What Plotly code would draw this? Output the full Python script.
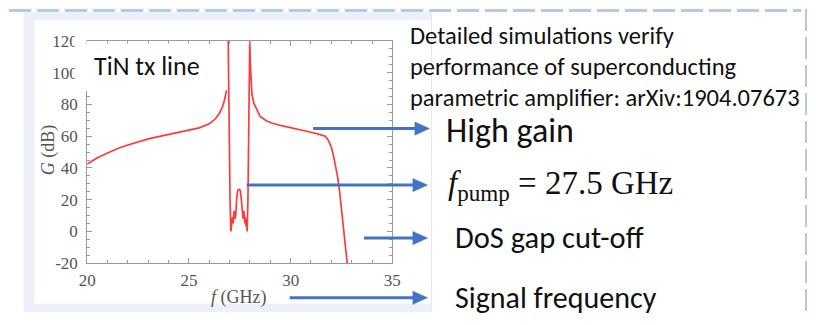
import plotly.graph_objects as go

W, H = 816, 325

# ---- data ----
freq_left = [20.0, 20.5, 21.0, 21.5, 22.0, 22.5, 23.0, 23.5, 24.0, 24.5, 25.0, 25.5,
             26.0, 26.3, 26.5, 26.65, 26.75, 26.82, 26.85]
gain_left = [42.5, 46.5, 49.5, 52.3, 54.5, 56.5, 58.3, 59.8, 61.2, 62.5, 63.8, 65.3,
             67.8, 71.0, 74.5, 78.5, 83.0, 87.5, 89.0]

freq_mid = [26.93, 26.95, 26.98, 27.02, 27.06, 27.09, 27.11, 27.14, 27.17, 27.22, 27.26,
            27.30, 27.35, 27.40, 27.46, 27.52, 27.57, 27.62, 27.66, 27.70, 27.75, 27.78,
            27.81, 27.84, 27.86, 27.90, 27.93, 27.97, 27.99]
gain_mid = [120, 90, 51, 20, 0, 6, 3, 9, 5, 13, 8,
            10, 21, 26, 26.6, 26, 21, 10, 8, 13, 5, 9,
            3, 6, 0, 20, 51, 90, 120]

freq_right = [27.99, 28.02, 28.1, 28.2, 28.3, 28.5, 28.8, 29.1, 29.5, 30.0, 30.5, 31.0,
              31.4, 31.7, 31.85, 32.0, 32.1, 32.2, 32.3, 32.4, 32.5, 32.6, 32.7, 32.78]
gain_right = [120, 105, 86, 80.5, 77.5, 72.5, 69.8, 68.2, 66.8, 65.5, 64.0, 62.5,
              61.2, 60.0, 57.5, 53.0, 48.0, 42.0, 35.0, 26.0, 14.0, 1.0, -11.0, -20.0]

x_ticks = [20, 25, 30, 35]
y_ticks = [-20, 0, 20, 40, 60, 80, 100, 120]
y_ticktext = ["-20", "0", "20", "40", "60", "80", "100", "120"]

annot_lines = ["Detailed simulations verify",
               "performance of superconducting",
               "parametric amplifier: arXiv:1904.07673"]
arrow_labels = ["High gain", "<i>f</i><sub>pump</sub> = 27.5 GHz", "DoS gap cut-off", "Signal frequency"]

# ---- helpers: window pixel -> paper ----
def px(x):
    return x / W

def py(y):
    return 1 - y / H

RED = "#ff3a3a"
BLUE = "#4472c4"
SANS = "Calibri, Carlito, Lato, sans-serif"
SERIF = "Liberation Serif, Times New Roman, serif"
AXC = "#9a9a9a"

fig = go.Figure()
for fx, gy in [(freq_left, gain_left), (freq_mid + freq_right[1:], gain_mid + gain_right[1:])]:
    fig.add_trace(go.Scatter(x=fx, y=gy, mode="lines",
                             line=dict(color=RED, width=1.7), hoverinfo="skip",
                             showlegend=False))

shapes = []
# slide dashed border
shapes.append(dict(type="line", xref="paper", yref="paper", x0=0, x1=px(810), y0=py(1.5), y1=py(1.5),
                   line=dict(color="#b4c7e7", width=3, dash="22px,6px"), layer="below"))
shapes.append(dict(type="line", xref="paper", yref="paper", x0=px(815), x1=px(815), y0=py(0), y1=py(325),
                   line=dict(color="#b4c7e7", width=2, dash="22px,6px"), layer="below"))
# picture panel
shapes.append(dict(type="rect", xref="paper", yref="paper", x0=px(15), x1=px(432), y0=py(322), y1=py(3),
                   fillcolor="#ecf0f8", line=dict(width=0), layer="below"))
shapes.append(dict(type="rect", xref="paper", yref="paper", x0=px(26), x1=px(432), y0=py(313), y1=py(12),
                   fillcolor="white", line=dict(width=0), layer="below"))
shapes.append(dict(type="line", xref="paper", yref="paper", x0=px(432), x1=px(432), y0=py(3), y1=py(322),
                   line=dict(color="#e4e8f0", width=1), layer="below"))
# white label box covering the upper left axis
shapes.append(dict(type="rect", xref="paper", yref="paper", x0=px(67), x1=px(200), y0=py(87), y1=py(37),
                   fillcolor="white", line=dict(width=0), layer="above"))
shapes.append(dict(type="rect", xref="paper", yref="paper", x0=px(67), x1=px(79.3), y0=py(37), y1=py(24),
                   fillcolor="white", line=dict(width=0), layer="above"))

# arrows
arrows = [(311, 430, 127), (243, 428, 187), (363, 428, 243.3), (287, 428, 306.7)]
for x0, x1, y in arrows:
    shapes.append(dict(type="line", xref="paper", yref="paper", x0=px(x0), x1=px(x1 - 12), y0=py(y), y1=py(y),
                       line=dict(color=BLUE, width=3), layer="above"))
    path = "M {a},{b} L {c},{d} L {e},{f} Z".format(a=px(x1), b=py(y), c=px(x1 - 15), d=py(y - 7),
                                                    e=px(x1 - 15), f=py(y + 7))
    shapes.append(dict(type="path", xref="paper", yref="paper", path=path,
                       fillcolor=BLUE, line=dict(color=BLUE, width=0.5), layer="above"))

annotations = []
# top paragraph
for txt, yc in zip(annot_lines, [29, 62, 94]):
    annotations.append(dict(xref="paper", yref="paper", x=px(408), y=py(yc), text=txt, showarrow=False,
                            xanchor="left", yanchor="middle", font=dict(family=SANS, size=24.5, color="#111")))
# arrow labels
lab_pos = [(445, 129, 34, SANS), (447, 187, 33, SERIF), (454, 243, 30.5, SANS), (454, 306, 30, SANS)]
for txt, (xl, yc, sz, fam) in zip(arrow_labels, lab_pos):
    annotations.append(dict(xref="paper", yref="paper", x=px(xl), y=py(yc), text=txt, showarrow=False,
                            xanchor="left", yanchor="middle", font=dict(family=fam, size=sz, color="#111")))
# TiN label
annotations.append(dict(xref="paper", yref="paper", x=px(85), y=py(61), text="TiN tx line", showarrow=False,
                        xanchor="left", yanchor="middle", font=dict(family=SANS, size=26, color="#111")))
# axis titles
annotations.append(dict(xref="paper", yref="paper", x=px(235), y=py(306), text="<i>f</i> (GHz)", showarrow=False,
                        xanchor="center", yanchor="middle", font=dict(family=SERIF, size=18, color="#555")))
annotations.append(dict(xref="paper", yref="paper", x=px(40), y=py(150), text="<i>G</i> (dB)", showarrow=False,
                        textangle=-90, xanchor="center", yanchor="middle",
                        font=dict(family=SERIF, size=18, color="#555")))

axis_common = dict(showline=True, linecolor=AXC, linewidth=1, mirror="ticks", ticks="inside",
                   ticklen=5, tickcolor=AXC, tickwidth=1, showgrid=False, zeroline=False,
                   tickfont=dict(family=SERIF, size=17, color="#555"))

fig.update_layout(
    width=W, height=H, margin=dict(l=0, r=0, t=0, b=0),
    paper_bgcolor="white", plot_bgcolor="white",
    xaxis=dict(domain=[px(80), px(392)], range=[20, 35], tickvals=x_ticks, ticklabelstandoff=1,
               minor=dict(dtick=1, ticks="inside", ticklen=3, tickcolor=AXC), **axis_common),
    yaxis=dict(domain=[py(270), py(34)], range=[-20, 120], tickvals=y_ticks, ticktext=y_ticktext,
               ticklabelstandoff=5,
               minor=dict(dtick=5, ticks="inside", ticklen=3, tickcolor=AXC), **axis_common),
    shapes=shapes, annotations=annotations,
)

fig.write_html("out.html")
